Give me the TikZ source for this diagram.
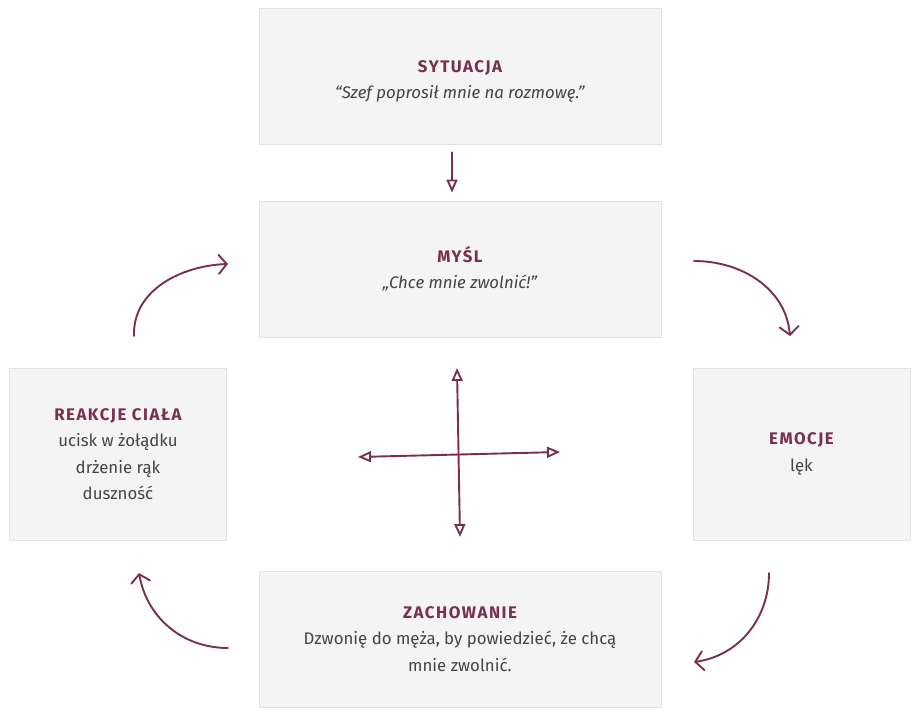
\documentclass[tikz,border=0pt]{standalone}
\usepackage{fontspec}
\setmainfont{Fira Sans}
\usepackage{xcolor}
\usetikzlibrary{arrows.meta, positioning}
\definecolor{plum}{HTML}{7A2E50}
\definecolor{boxgray}{HTML}{F4F4F4}
\definecolor{boxline}{HTML}{E2E2E2}
\definecolor{bodytext}{HTML}{444444}
\newcommand{\boxtitle}[1]{{\color{plum}\bfseries\addfontfeature{LetterSpace=9}#1}}

\begin{document}
\begin{tikzpicture}[
    x=1pt, y=1pt,
    % Box styles
    stagebox/.style={draw=boxline, fill=boxgray, line width=0.8pt, align=center,
                     text=bodytext, font=\fontsize{16.8}{26.5}\selectfont, inner sep=0pt},
    widebox/.style={stagebox, minimum width=402pt, minimum height=136pt},
    sidebox/.style={stagebox, minimum width=217pt, minimum height=172pt},
    % Arrow styles
    flowarrow/.style={draw=plum, line width=1.9pt, line cap=round,
                      -{Triangle[open, length=13pt, width=11pt]}},
    crossarrow/.style={draw=plum, line width=1.9pt,
                       {Triangle[open, length=13pt, width=11pt]}-{Triangle[open, length=13pt, width=11pt]}},
    cyclearrow/.style={draw=plum, line width=1.9pt, line cap=round,
                       -{Straight Barb[length=8pt, width=19pt, line cap=round]}}
]
\useasboundingbox (0,0) rectangle (920,721);

% Stages of the cycle
\node[widebox] (situation) at (460,645) {\rule{0pt}{23pt}\boxtitle{SYTUACJA}\\\textit{“Szef poprosił mnie na rozmowę.”}};
\node[widebox] (thought) at (460,452) {\boxtitle{MYŚL}\\\textit{„Chce mnie zwolnić!”}};
\node[sidebox] (body) at (118,267) {\boxtitle{REAKCJE CIAŁA}\\ucisk w żołądku\\drżenie rąk\\duszność};
\node[sidebox] (emotion) at (801.5,267) {\boxtitle{EMOCJE}\\lęk};
\node[widebox] (behaviour) at (460,82) {\boxtitle{ZACHOWANIE}\\Dzwonię do męża, by powiedzieć, że chcą\\mnie zwolnić.};

% Situation to thought
\draw[flowarrow] ([yshift=-8pt]situation.south -| 452,0) -- ([yshift=8pt]thought.north -| 452,0);

% Curved arrows around the cycle
\coordinate (tl_start) at (134,385);
\coordinate (tl_end) at (228,457);
\coordinate (tr_start) at (694,460);
\coordinate (tr_end) at (790,385);
\coordinate (br_start) at (769,148);
\coordinate (br_end) at (694,59);
\coordinate (bl_start) at (228,73);
\coordinate (bl_end) at (139,148);
\draw[cyclearrow] (tl_start) to[out=92, in=182] (tl_end);
\draw[cyclearrow] (tr_start) to[out=0, in=95] (tr_end);
\draw[cyclearrow] (br_start) to[out=-90, in=8] (br_end);
\draw[cyclearrow] (bl_start) to[out=180, in=-80] (bl_end);

% Cross between the stages
\coordinate (cross_top) at (457,353);
\coordinate (cross_bottom) at (460,184);
\coordinate (cross_left) at (358,264);
\coordinate (cross_right) at (560,269);
\draw[crossarrow] (cross_bottom) -- (cross_top);
\draw[crossarrow] (cross_left) -- (cross_right);

\end{tikzpicture}
\end{document}
